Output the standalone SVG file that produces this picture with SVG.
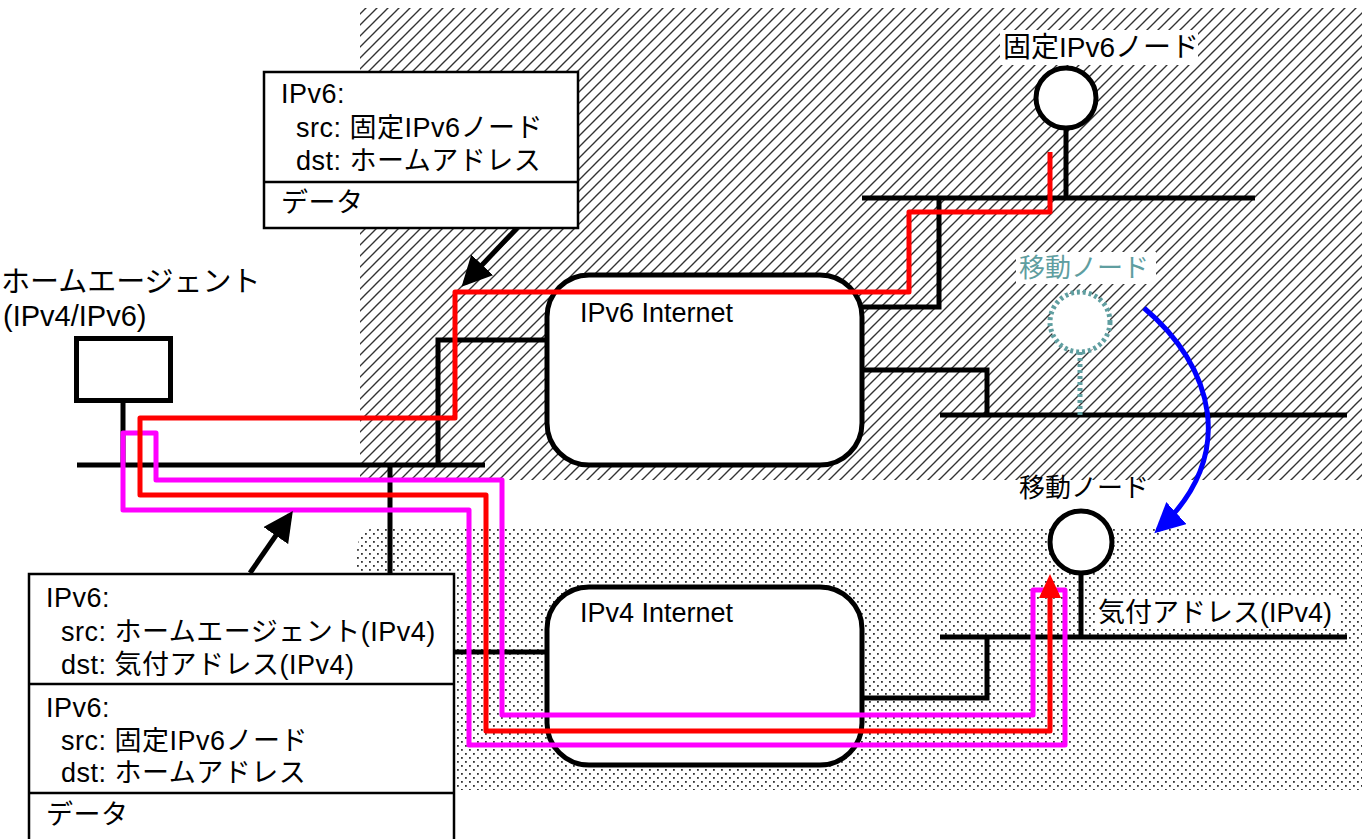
<svg xmlns="http://www.w3.org/2000/svg" width="1362" height="839" viewBox="0 0 1362 839">
<style>
text{font-family:"Liberation Sans","Noto Sans CJK JP",sans-serif;font-size:27px;fill:#000}
.pk{letter-spacing:0.5px}
.net{fill:none;stroke:#000;stroke-width:5;stroke-linejoin:miter}
.cloud{fill:#fff;stroke:#000;stroke-width:5}
.box{fill:#fff;stroke:#000;stroke-width:2.5}
.red{fill:none;stroke:#f00;stroke-width:5;stroke-linejoin:round}
.mag{fill:none;stroke:#f0f;stroke-width:5;stroke-linejoin:round}
.ptr{fill:none;stroke:#000;stroke-width:5}
.lbl{fill:#fff}
</style>
<defs>
<pattern id="hatch" width="11" height="11" patternUnits="userSpaceOnUse">
<path d="M-1,12 L12,-1 M-6,6 L6,-6 M5,17 L17,5" stroke="#333" stroke-width="1.4"/>
</pattern>
<pattern id="dots" width="8" height="8" patternUnits="userSpaceOnUse">
<rect x="1" y="1" width="1.8" height="1.8" fill="#333"/>
<rect x="5" y="5" width="1.8" height="1.8" fill="#333"/>
</pattern>
<marker id="ah" markerWidth="6" markerHeight="6" refX="5" refY="3" orient="auto" markerUnits="strokeWidth">
<path d="M0,0 L6,3 L0,6 z" fill="#000"/>
</marker>
<marker id="ahb" markerWidth="6" markerHeight="6" refX="5" refY="3" orient="auto" markerUnits="strokeWidth">
<path d="M0,0 L6,3 L0,6 z" fill="#00f"/>
</marker>
</defs>
<rect width="1362" height="839" fill="#fff"/>
<g id="regions">
<rect x="360" y="8" width="1002" height="472" fill="url(#hatch)"/>
<path d="M382,527 H1362 V790 H357 V552 Q357,527 382,527 z" fill="url(#dots)"/>
</g>
<g id="ipv6net">
<rect class="cloud" x="547" y="275" width="315" height="190" rx="42"/>
<text x="580" y="322">IPv6 Internet</text>
</g>
<g id="ipv4net">
<rect class="cloud" x="547" y="587" width="315" height="178" rx="42"/>
<text x="580" y="622">IPv4 Internet</text>
</g>
<g id="connectors">
<path class="net" d="M77,465 H485"/>
<path class="net" d="M123,403 V465"/>
<path class="net" d="M438,465 V340 H547"/>
<path class="net" d="M390,465 V652 H547"/>
<path class="net" d="M862,198 H1255"/>
<path class="net" d="M862,307 H939 V198"/>
<path class="net" d="M862,370 H987 V415"/>
<path class="net" d="M940,415 H1347"/>
<path class="net" d="M1066,128 V198"/>
<path class="net" d="M940,637 H1347"/>
<path class="net" d="M862,698 H987 V637"/>
<path class="net" d="M1081,573 V637"/>
<path d="M1080,352 V415" fill="none" stroke="#5f9ea0" stroke-width="5" stroke-dasharray="3,3"/>
<path class="mag" d="M156,433 V480 H502 V715 H1033 V590 H1065 V745 H469 V510 H123 V433 Z"/>
<path class="red" d="M1050,152 V212 H909 V292 H455 V418 H140 V495 H486 V731 H1050 V596"/>
<polygon points="1050,574 1039,598 1061,598" fill="#f00"/>
<path d="M1144,308 C1212,365 1240,455 1158,530" fill="none" stroke="#00f" stroke-width="5" marker-end="url(#ahb)"/>
<path class="ptr" d="M517,228 L465,283" marker-end="url(#ah)"/>
<path class="ptr" d="M250,573 L290,515" marker-end="url(#ah)"/>
</g>
<g id="ha">
<rect x="76.5" y="338.5" width="94" height="62" fill="#fff" stroke="#000" stroke-width="5"/>
<text x="1" y="292" style="font-size:29px">ホームエージェント</text>
<text x="3" y="326" style="font-size:29px">(IPv4/IPv6)</text>
</g>
<g id="fixed">
<rect class="lbl" x="1000" y="30" width="198" height="35"/>
<text x="1003" y="57" style="font-size:28px">固定IPv6ノード</text>
<circle cx="1066" cy="98" r="30" fill="#fff" stroke="#000" stroke-width="5"/>
</g>
<g id="mn-old">
<rect class="lbl" x="1016" y="252" width="140" height="32"/>
<text x="1019" y="277" style="fill:#5f9ea0;font-size:26px">移動ノード</text>
<circle cx="1080" cy="322" r="30" fill="#fff" stroke="#5f9ea0" stroke-width="5" stroke-dasharray="3,3"/>
</g>
<g id="mn">
<text x="1019" y="497" style="font-size:26px">移動ノード</text>
<circle cx="1081" cy="542" r="31" fill="#fff" stroke="#000" stroke-width="5"/>
<rect class="lbl" x="1095" y="597" width="245" height="32"/>
<text x="1098" y="622">気付アドレス(IPv4)</text>
</g>
<g id="pkt1">
<rect class="box" x="264" y="72" width="314" height="156"/>
<line x1="264" y1="182" x2="578" y2="182" stroke="#000" stroke-width="2.5"/>
<text class="pk" x="281" y="103">IPv6:</text>
<text class="pk" x="296" y="137">src: 固定IPv6ノード</text>
<text class="pk" x="296" y="170">dst: ホームアドレス</text>
<text class="pk" x="281" y="212">データ</text>
</g>
<g id="pkt2">
<rect class="box" x="29" y="574" width="425" height="280"/>
<line x1="29" y1="684" x2="454" y2="684" stroke="#000" stroke-width="2.5"/>
<line x1="29" y1="793" x2="454" y2="793" stroke="#000" stroke-width="2.5"/>
<text class="pk" x="46" y="607">IPv6:</text>
<text class="pk" x="61" y="641">src: ホームエージェント(IPv4)</text>
<text class="pk" x="61" y="674">dst: 気付アドレス(IPv4)</text>
<text class="pk" x="46" y="717">IPv6:</text>
<text class="pk" x="61" y="750">src: 固定IPv6ノード</text>
<text class="pk" x="61" y="782">dst: ホームアドレス</text>
<text class="pk" x="46" y="824">データ</text>
</g>
</svg>
